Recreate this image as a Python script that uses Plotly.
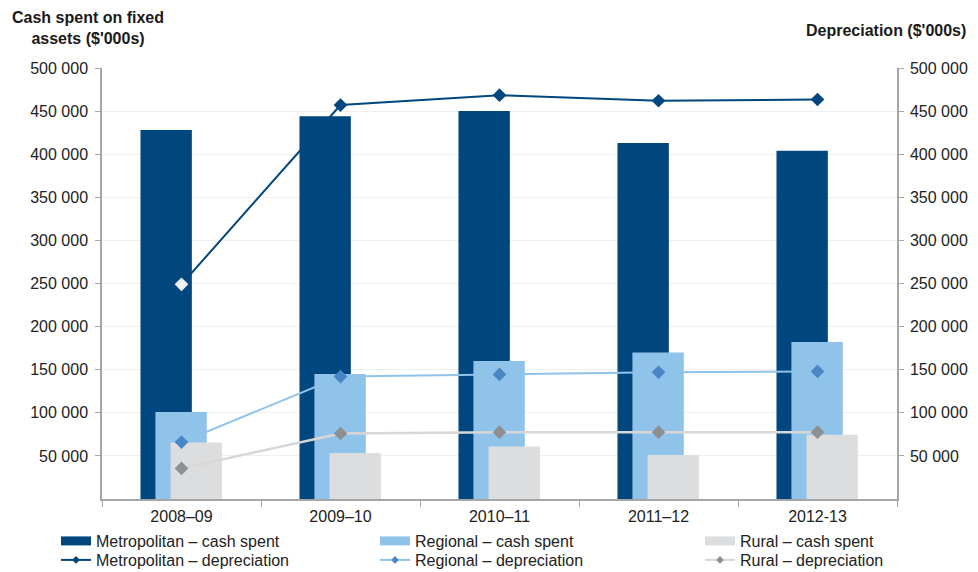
import plotly.graph_objects as go

categories = ["2008–09", "2009–10", "2010–11", "2011–12", "2012-13"]

metro_cash = [428000, 444000, 450000, 413000, 404000]
regional_cash = [101000, 145000, 160000, 170000, 182000]
rural_cash = [65500, 53500, 61000, 51000, 74500]

metro_dep = [249000, 457000, 468500, 462000, 463500]
regional_dep = [66000, 142000, 144500, 147000, 148000]
rural_dep = [35500, 76000, 77500, 77500, 77500]

y_ticks = [50000, 100000, 150000, 200000, 250000, 300000, 350000, 400000, 450000, 500000]

C_METRO = "#00467f"
C_REG_BAR = "#90c3ea"
C_REG_MARK = "#4a86c6"
C_RUR_BAR = "#dcdddf"
C_RUR_LINE = "#d7d7d7"
C_RUR_MARK = "#8e8f91"

FONT = "Liberation Sans, Arial, sans-serif"
W_PX, H_PX, L, R = 978, 572, 102, 81
PW = W_PX - L - R

fig = go.Figure()

bar_width = 0.323
fig.add_bar(x=categories, y=metro_cash, width=bar_width, offset=-0.258,
            marker=dict(color=C_METRO, line=dict(width=0)), showlegend=False)
fig.add_bar(x=categories, y=regional_cash, width=bar_width, offset=-0.164,
            marker=dict(color=C_REG_BAR, line=dict(width=0)), showlegend=False)
fig.add_bar(x=categories, y=rural_cash, width=bar_width, offset=-0.069,
            marker=dict(color=C_RUR_BAR, line=dict(width=0)), showlegend=False)

metro_marker_colors = ["#f2f2f2"] + [C_METRO] * (len(categories) - 1)
fig.add_scatter(x=categories, y=metro_dep, yaxis="y2", mode="lines+markers",
                line=dict(color=C_METRO, width=2),
                marker=dict(symbol="diamond", size=10.5, color=metro_marker_colors),
                showlegend=False)
fig.add_scatter(x=categories, y=regional_dep, yaxis="y2", mode="lines+markers",
                line=dict(color=C_REG_BAR, width=2),
                marker=dict(symbol="diamond", size=10.5, color=C_REG_MARK),
                showlegend=False)
fig.add_scatter(x=categories, y=rural_dep, yaxis="y2", mode="lines+markers",
                line=dict(color=C_RUR_LINE, width=2.5),
                marker=dict(symbol="diamond", size=10.5, color=C_RUR_MARK),
                showlegend=False)

# legend entries: (name, line colour, marker colour, column x px, row top px)
legend_items = [
    ("Metropolitan – cash spent", C_METRO, None, 56, 524),
    ("Metropolitan – depreciation", C_METRO, C_METRO, 56, 543),
    ("Regional – cash spent", C_REG_BAR, None, 375, 524),
    ("Regional – depreciation", C_REG_BAR, C_REG_MARK, 375, 543),
    ("Rural – cash spent", C_RUR_BAR, None, 700, 524),
    ("Rural – depreciation", C_RUR_LINE, C_RUR_MARK, 700, 543),
]
legend_layout = {}
for i, (name, col, mcol, xpx, ypx) in enumerate(legend_items):
    lg = "legend" if i == 0 else f"legend{i + 1}"
    if mcol is None:
        fig.add_scatter(x=[categories[0]], y=[None], mode="lines", name=name,
                        line=dict(color=col, width=9), legend=lg)
    else:
        fig.add_scatter(x=[categories[0]], y=[None], mode="lines+markers", name=name,
                        line=dict(color=col, width=2),
                        marker=dict(symbol="diamond", size=6, color=mcol), legend=lg)
    legend_layout[lg] = dict(
        orientation="v", xref="container", yref="container",
        x=xpx / W_PX, y=1 - ypx / H_PX, yanchor="top", xanchor="left",
        font=dict(family=FONT, size=16, color="#222222"),
        bgcolor="rgba(0,0,0,0)", borderwidth=0, itemwidth=30)

axis_common = dict(
    range=[0, 500000], tickvals=y_ticks, tickformat=",d",
    showgrid=True, gridcolor="#efefef", gridwidth=1,
    showline=True, linecolor="#a6a6a6", linewidth=1.5,
    ticks="outside", ticklen=5, tickcolor="#a6a6a6",
    tickfont=dict(family=FONT, size=16, color="#222222"),
    zeroline=False, fixedrange=True, autorange=False,
)

fig.update_layout(
    width=W_PX, height=H_PX,
    margin=dict(l=L, r=R, t=68, b=73, autoexpand=False),
    paper_bgcolor="white", plot_bgcolor="white",
    separators=". ",
    barmode="overlay",
    xaxis=dict(type="category", categoryarray=categories, categoryorder="array",
               range=[-0.5, 4.5], autorange=False, showgrid=False,
               showline=True, linecolor="#a6a6a6", linewidth=1.5,
               ticks="outside", tickson="boundaries", ticklen=6, tickcolor="#a6a6a6",
               tickfont=dict(family=FONT, size=16, color="#222222"),
               tickangle=0, ticklabelstandoff=2, fixedrange=True),
    yaxis=dict(side="left", ticklabelstandoff=4, **axis_common),
    yaxis2=dict(side="right", overlaying="y", ticklabelstandoff=3, **axis_common),
    showlegend=True,
    annotations=[
        dict(text="<b>Cash spent on fixed<br>assets ($'000s)</b>", xref="paper", yref="paper",
             x=(88 - L) / PW, y=(499 - 28) / 431, xanchor="center", yanchor="middle",
             showarrow=False, align="center",
             font=dict(family=FONT, size=16, color="#1a1a1a")),
        dict(text="<b>Depreciation ($'000s)</b>", xref="paper", yref="paper",
             x=(968 - L) / PW, y=(499 - 31) / 431, xanchor="right", yanchor="middle",
             showarrow=False, font=dict(family=FONT, size=16, color="#1a1a1a")),
    ],
    **legend_layout,
)

fig.write_html("out.html")
